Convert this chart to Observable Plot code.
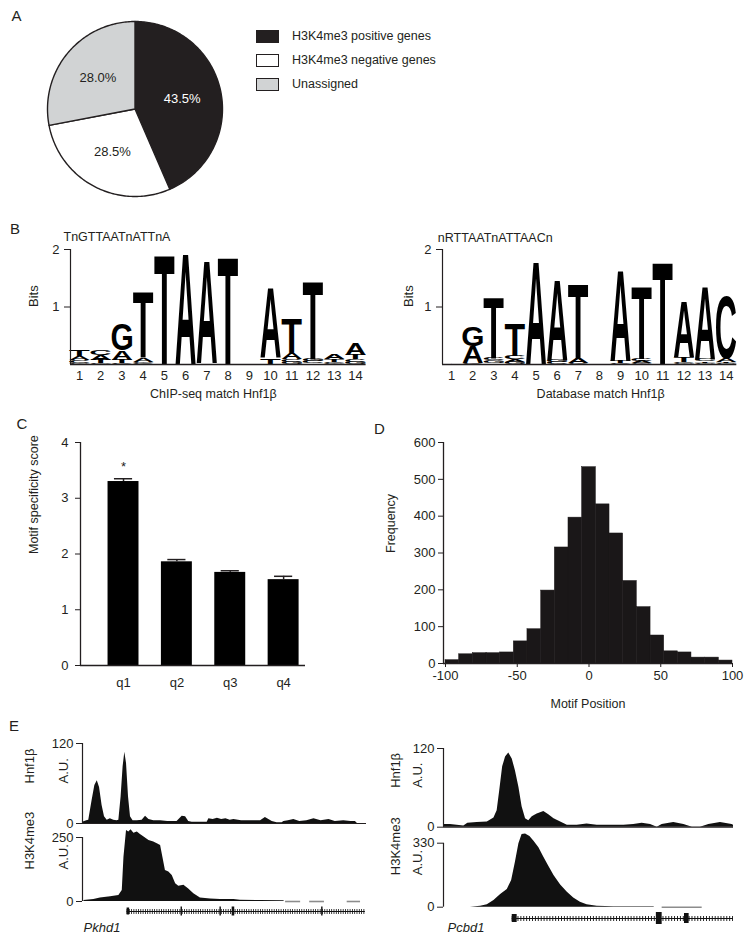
<!DOCTYPE html>
<html><head><meta charset="utf-8">
<script src="https://cdn.jsdelivr.net/npm/d3@7"></script>
<script src="https://cdn.jsdelivr.net/npm/@observablehq/plot@0.6"></script>
<style>
html,body{margin:0;padding:0;background:#fff;}
#page{position:relative;width:751px;height:945px;overflow:hidden;background:#fff;font-family:"Liberation Sans",Arial,Helvetica,sans-serif;color:#231f20;}
#page svg{display:block;overflow:visible;}
</style></head><body><div id="page"></div>
<script>
// ================= DATA =================
// Panel A
const pieCategories = ["H3K4me3 positive genes", "H3K4me3 negative genes", "Unassigned"];
const pieShares = [43.5, 28.5, 28.0];
const pieFills = ["#231f20", "#ffffff", "#d1d3d4"];

// Panel B (information content, bits, per letter)
const logoPositions = [1,2,3,4,5,6,7,8,9,10,11,12,13,14];
const chipTitle = "TnGTTAATnATTnA";
const chipLabel = "ChIP-seq match Hnf1\u03b2";
const chipA = [0.07, 0.09, 0.16, 0.07, 0, 1.94, 1.79, 0, 0, 1.23, 0.10, 0.02, 0.09, 0.20];
const chipC = [0.04, 0.10, 0.02, 0.02, 0, 0, 0, 0, 0, 0, 0.05, 0.04, 0.03, 0.05];
const chipG = [0.03, 0.02, 0.45, 0.03, 0, 0, 0, 0, 0, 0, 0.04, 0.04, 0.02, 0.04];
const chipT = [0.10, 0.06, 0.06, 1.16, 1.93, 0, 0.02, 1.87, 0.02, 0.12, 0.60, 1.36, 0.04, 0.08];
const dbTitle = "nRTTAATnATTAACn";
const dbLabel = "Database match Hnf1\u03b2";
const dbA = [0.02, 0.29, 0.03, 0.05, 1.81, 1.41, 0.08, 0, 1.58, 0.04, 0, 0.96, 1.26, 0.06];
const dbC = [0, 0.02, 0.05, 0.06, 0, 0.04, 0.02, 0, 0.02, 0.04, 0, 0.03, 0.04, 1.10];
const dbG = [0, 0.33, 0.04, 0.04, 0, 0.04, 0, 0, 0, 0.02, 0, 0.02, 0.03, 0.02];
const dbT = [0, 0, 1.05, 0.57, 0, 0, 1.30, 0.02, 0.04, 1.27, 1.78, 0.08, 0.03, 0.02];
const bitsTicks = [1, 2];

// Panel C
const quartiles = ["q1", "q2", "q3", "q4"];
const specificityMean = [3.30, 1.86, 1.67, 1.54];
const specificitySem = [0.05, 0.04, 0.03, 0.06];
const significant = [true, false, false, false];
const specificityTicks = [0, 1, 2, 3, 4];

// Panel D
const binEdges = [-100, -90.5, -81, -71.4, -61.9, -52.4, -42.9, -33.3, -23.8, -14.3, -4.8, 4.8, 14.3, 23.8, 33.3, 42.9, 52.4, 61.9, 71.4, 81, 90.5, 100];
const binCounts = [9, 25, 28, 28, 30, 60, 93, 198, 315, 396, 533, 432, 353, 224, 153, 76, 33, 30, 16, 16, 8];
const positionTicks = [-100, -50, 0, 50, 100];
const frequencyTicks = [0, 100, 200, 300, 400, 500, 600];

// Panel E (relative locus position 0-100, signal in A.U.)
const pkhd1Hnf1b = [[0,2],[1.5,4],[2.2,5],[3.4,35],[4.35,57],[5.2,64],[6.0,54],[6.9,27],[7.75,10],[8.7,5],[9.8,7],[11,5],[12.2,4],[12.8,5],[13.6,40],[14.3,85],[14.9,107],[15.5,90],[16.2,40],[16.9,10],[17.8,4],[19.3,4],[21,5],[22.2,11],[23.4,6],[25.1,4],[27.5,4],[30,3],[33.3,3],[35.1,11],[36.3,10],[37.4,3],[38.6,2],[41,2],[43.9,2],[44.5,7],[46,6],[47.5,8],[49,6],[50.5,7],[52,5],[53.3,6],[56,4],[59,4],[62.7,4],[64.4,9],[66.8,3],[68.5,1],[70.3,1],[70.9,3],[72.5,4],[74.4,6],[76.5,3],[79,4],[81.5,7],[84,4],[86.8,6],[89,3],[92,4],[94.5,3],[96.1,3],[96.8,0],[100,0]];
const pkhd1K4me3 = [[0.5,4],[4,8],[6.3,14],[9.9,19],[12.8,23],[14,43],[14.6,173],[15.5,277],[16.3,271],[17.1,280],[18.1,267],[19.3,271],[20.4,262],[21.8,251],[23.4,238],[25.1,232],[26.5,225],[27.5,219],[28.3,173],[29.2,121],[30.4,115],[31.6,102],[32.8,69],[33.9,60],[35.7,63],[37.4,49],[39.2,30],[41.5,14],[45.1,10],[48.6,8],[53.3,8],[55.6,5],[62.7,4],[70.9,3],[71.1,0]];
const pkhd1Gaps = [[71.5,76.8],[80,85.2],[93.2,97.9]];
const pkhd1Gene = [15.7, 99.6];
const pkhd1Exons = [[15.7,16.6,0.35],[34.7,35.2,0.45],[48.4,48.9,0.45],[52.7,53.6,0.45],[84.2,84.7,0.45]];
const pcbd1Hnf1b = [[0,4],[2.4,4],[4.7,3],[7,2],[8.4,6],[11.6,7],[15.1,8],[17.4,14],[18.5,25],[19.4,56],[20.4,92],[21.4,107],[22.5,113],[23.7,104],[24.8,86],[26,61],[27.1,31],[28.3,13],[29.4,10],[30.6,16],[32.3,20],[34.6,24],[36.3,19],[38.1,13],[40.4,8],[42.7,3],[46.1,3],[49.5,5],[53,3],[57.6,3],[62.2,3],[65.6,4],[68.5,6],[71.4,4],[73.7,0],[75.4,4],[79.4,7],[82.9,4],[85.8,0],[88.6,0],[91.5,4],[95.5,7],[99.5,4],[100,3]];
const pcbd1K4me3 = [[9.3,0],[12.8,5],[15.1,12],[17.4,34],[19.7,65],[22,91],[23.5,138],[24.8,232],[26,327],[27.1,375],[28.3,378],[29.8,364],[31.2,340],[32.9,306],[34.6,258],[36.3,211],[38.1,163],[40.4,115],[42.7,77],[44.9,48],[47.2,26],[49.5,12],[53,5],[58.7,2],[72.5,2],[72.8,0]];
const pcbd1Gaps = [[75.4,89.2]];
const pcbd1Gene = [23.7, 100];
const pcbd1Exons = [[23.7,25.4,0.4],[73.4,75.4,0.6],[83.1,84.7,0.5]];

// ================= RENDER =================
const FONT = "'Liberation Sans', Arial, Helvetica, sans-serif";
const INK = "#231f20";
const page = document.getElementById("page");
const baseStyle = {background: "transparent", fontFamily: FONT, fontSize: "13px", color: INK, overflow: "visible"};
const intFmt = d => String(d);

function place(node, left, top, width) {
  const div = document.createElement("div");
  div.style.cssText = `position:absolute;left:${left}px;top:${top}px;width:${width}px;`;
  div.appendChild(node); page.appendChild(div); return node;
}
function htmlText(txt, left, top, size, extra = "") {
  const d = document.createElement("div");
  d.textContent = txt;
  d.style.cssText = `position:absolute;left:${left}px;top:${top}px;font-size:${size}px;line-height:${size}px;white-space:nowrap;color:${INK};${extra}`;
  page.appendChild(d);
}
const label = (txt, o) => Plot.text([txt], {text: d => d, ...o});

// Panel letters
htmlText("A", 11.5, 8, 15);
htmlText("B", 10, 221, 15);
htmlText("C", 16.5, 416, 15);
htmlText("D", 374, 421, 15);
htmlText("E", 9, 718, 15);

// ---------- A: pie ----------
const arcs = d3.pie().sort(null).value(d => d)(pieShares);
const slicePts = arcs.map(a => {
  const pts = [{x: 0, y: 0}];
  const n = Math.max(2, Math.ceil((a.endAngle - a.startAngle) * 180 / Math.PI));
  for (let j = 0; j <= n; j++) {
    const t = a.startAngle + (a.endAngle - a.startAngle) * j / n;
    pts.push({x: Math.sin(t), y: Math.cos(t)});
  }
  return pts;
});
const pieText = arcs.map((a, i) => {
  const t = (a.startAngle + a.endAngle) / 2;
  return {x: 0.55 * Math.sin(t), y: 0.55 * Math.cos(t), label: pieShares[i].toFixed(1) + "%", color: i === 0 ? "#ffffff" : INK};
});
const piePlot = Plot.plot({
  width: 181, height: 181, margin: 3, style: baseStyle,
  x: {domain: [-1, 1], axis: null}, y: {domain: [-1, 1], axis: null},
  marks: [
    ...slicePts.map((pts, i) => Plot.line(pts, {x: "x", y: "y", curve: "linear-closed", fill: pieFills[i], stroke: INK, strokeWidth: 1.4})),
    Plot.text(pieText, {x: "x", y: "y", text: "label", fill: "color", fontSize: 13})
  ]
});
place(piePlot, 44, 18, 181);

// legend
pieCategories.forEach((c, i) => {
  const y = 30 + i * 24.2;
  const sw = document.createElement("div");
  sw.style.cssText = `position:absolute;left:256px;top:${y}px;width:23px;height:13px;box-sizing:border-box;border:1px solid ${INK};background:${pieFills[i]};`;
  page.appendChild(sw);
  htmlText(c, 292, y - 0.5, 12.5);
});

// ---------- B: sequence logos ----------
function logoPlot(cfg) {
  const {A, C, G, T, title, xlabel, left, top, width, height, marginLeft, marginRight, marginTop, marginBottom, x0, titleDx, titleDy, bitsDx, xlabelDx, xlabelDy} = cfg;
  const letters = [];
  logoPositions.forEach((p, k) => {
    const col = [["A", A[k]], ["C", C[k]], ["G", G[k]], ["T", T[k]]].filter(d => d[1] > 0).sort((a, b) => a[1] - b[1]);
    let acc = 0;
    for (const [L, h] of col) { letters.push({p, letter: L, y1: acc, y2: acc + h}); acc += h; }
  });
  const plot = Plot.plot({
    width, height, marginLeft, marginRight, marginTop, marginBottom, style: baseStyle,
    x: {domain: [x0, 14.5], ticks: logoPositions, tickFormat: intFmt, tickSize: 0, tickPadding: 6, label: null},
    y: {domain: [0, 2], ticks: bitsTicks, tickFormat: intFmt, tickSize: 6, tickPadding: 5, label: null},
    marks: [
      Plot.text(letters, {x: "p", y: "y1", text: "letter", fontSize: 100, fontWeight: "bold", textAnchor: "start", fill: "#000"}),
      Plot.ruleY([0], {strokeWidth: 1.6}),
      Plot.ruleX([x0], {y1: 0, y2: 2, strokeWidth: 1.2}),
      label(title, {frameAnchor: "top-left", textAnchor: "start", dx: titleDx, dy: titleDy, fontSize: 12.5}),
      label("Bits", {frameAnchor: "left", rotate: -90, dx: bitsDx, fontSize: 13}),
      label(xlabel, {frameAnchor: "bottom", dx: xlabelDx, dy: xlabelDy, fontSize: 12.5})
    ]
  });
  const sx = plot.scale("x"), sy = plot.scale("y");
  const fx = sx.apply ? (v => sx.apply(v)) : d3.scaleLinear(sx.domain, sx.range);
  const fy = sy.apply ? (v => sy.apply(v)) : d3.scaleLinear(sy.domain, sy.range);
  const ctx = document.createElement("canvas").getContext("2d");
  ctx.font = `bold 100px ${FONT}`;
  // the letters mark is the only one drawn with font-size 100
  const groups = Array.from(plot.querySelectorAll("g")).filter(g => g.getAttribute("font-size") === "100" || g.style.fontSize === "100px");
  const g = groups[0];
  if (g) g.querySelectorAll("text").forEach((el, j) => {
    const i = typeof el.__data__ === "number" ? el.__data__ : j;
    const d = letters[i];
    if (!d) return;
    const m = ctx.measureText(d.letter);
    const L = -m.actualBoundingBoxLeft, R = m.actualBoundingBoxRight;
    const Tp = -m.actualBoundingBoxAscent, B = m.actualBoundingBoxDescent;
    const x0p = fx(d.p - 0.48), x1p = fx(d.p + 0.48), yt = fy(d.y2), yb = fy(d.y1);
    const kx = (x1p - x0p) / (R - L), ky = (yb - yt) / (B - Tp);
    el.setAttribute("x", 0); el.setAttribute("y", 0); el.removeAttribute("dy");
    el.setAttribute("transform", `translate(${x0p},${yt}) scale(${kx},${ky}) translate(${-L},${-Tp})`);
    el.setAttribute("text-anchor", "start");
    el.style.fontSize = "100px"; el.style.fontWeight = "bold"; el.style.fontFamily = FONT;
  });
  return place(plot, left, top, width);
}
logoPlot({A: chipA, C: chipC, G: chipG, T: chipT, title: chipTitle, xlabel: chipLabel,
  left: 0, top: 225, width: 375, height: 179, marginLeft: 70, marginRight: 9.4, marginTop: 24, marginBottom: 40,
  x0: 0.576, titleDx: -7, titleDy: -17, bitsDx: -37, xlabelDx: -5, xlabelDy: 33});
logoPlot({A: dbA, C: dbC, G: dbG, T: dbT, title: dbTitle, xlabel: dbLabel,
  left: 380, top: 225, width: 371, height: 179, marginLeft: 62, marginRight: 14.7, marginTop: 24, marginBottom: 40,
  x0: 0.574, titleDx: -4.7, titleDy: -16, bitsDx: -34, xlabelDx: 11, xlabelDy: 33});

// ---------- C: bar chart ----------
const barData = quartiles.map((q, i) => ({i: i + 1, q, mean: specificityMean[i], sem: specificitySem[i], star: significant[i]}));
const cXDomain = [0.194, 4.41];
const cPlot = Plot.plot({
  width: 320, height: 265, marginLeft: 80, marginRight: 15, marginTop: 12, marginBottom: 30, style: baseStyle,
  x: {domain: cXDomain, ticks: barData.map(d => d.i), tickFormat: v => quartiles[v - 1], tickSize: 0, tickPadding: 12, label: null},
  y: {domain: [0, 4], ticks: specificityTicks, tickFormat: intFmt, tickSize: 5, tickPadding: 7, label: null},
  marks: [
    Plot.rect(barData, {x1: d => d.i - 0.29, x2: d => d.i + 0.29, y1: () => 0, y2: "mean", fill: "#000"}),
    Plot.ruleX(barData, {x: "i", y1: "mean", y2: d => d.mean + d.sem, strokeWidth: 1.5}),
    Plot.ruleY(barData, {y: d => d.mean + d.sem, x1: d => d.i - 0.17, x2: d => d.i + 0.17, strokeWidth: 1.5}),
    Plot.text(barData.filter(d => d.star), {x: "i", y: d => d.mean + d.sem, text: () => "*", dy: -12, fontSize: 13}),
    Plot.ruleX([cXDomain[0]], {y1: 0, y2: 4, strokeWidth: 1.3}),
    Plot.ruleY([0], {strokeWidth: 1.3}),
    label("Motif specificity score", {frameAnchor: "left", rotate: -90, dx: -47, fontSize: 12.5})
  ]
});
place(cPlot, 0, 430, 320);

// ---------- D: histogram ----------
const hist = binCounts.map((c, i) => ({x1: binEdges[i], x2: binEdges[i + 1], n: c}));
const dXDomain = [-101.4, 100];
const dPlot = Plot.plot({
  width: 371, height: 290, marginLeft: 63, marginRight: 19, marginTop: 12, marginBottom: 57, style: baseStyle,
  x: {domain: dXDomain, ticks: positionTicks, tickFormat: intFmt, tickSize: 4, tickPadding: 3, label: null},
  y: {domain: [0, 600], ticks: frequencyTicks, tickFormat: intFmt, tickSize: 5, tickPadding: 3, label: null},
  marks: [
    Plot.rect(hist, {x1: "x1", x2: "x2", y1: () => 0, y2: "n", fill: "#1a1718", stroke: "#1a1718", strokeWidth: 0.5}),
    Plot.ruleX([dXDomain[0]], {y1: 0, y2: 600, strokeWidth: 1.3}),
    Plot.ruleY([0], {strokeWidth: 1.3}),
    label("Frequency", {frameAnchor: "left", rotate: -90, dx: -53, fontSize: 12.5}),
    label("Motif Position", {frameAnchor: "bottom", dy: 44, fontSize: 12.5})
  ]
});
place(dPlot, 380, 430, 371);

// ---------- E: tracks ----------
function trackPlot(o) {
  const p = Plot.plot({
    width: o.width, height: o.height, marginLeft: o.marginLeft, marginRight: o.marginRight, marginTop: o.marginTop, marginBottom: o.marginBottom,
    style: baseStyle,
    x: {domain: [0, 100], axis: null},
    y: {domain: [0, o.ymax], ticks: [0, o.ymax], tickFormat: intFmt, tickSize: 6, tickPadding: 3, label: null},
    marks: [
      Plot.areaY(o.data, {x: d => d[0], y1: () => 0, y2: d => d[1], fill: "#111"}),
      o.baseline ? Plot.ruleY([0], {strokeWidth: 1.2}) : null,
      o.gaps ? Plot.ruleY(o.gaps, {y: () => 0, x1: d => d[0], x2: d => d[1], stroke: "#8c8c8c", strokeWidth: 1.6}) : null,
      Plot.ruleX([0], {y1: 0, y2: o.ymax, strokeWidth: 1.2}),
      label(o.name, {frameAnchor: "left", rotate: -90, dx: o.nameDx, fontSize: 13}),
      label("A.U.", {frameAnchor: "left", rotate: -90, dx: o.auDx, fontSize: 13})
    ]
  });
  return place(p, o.left, o.top, o.width);
}
function genePlot(o) {
  const p = Plot.plot({
    width: o.width, height: 40, marginLeft: o.marginLeft, marginRight: o.marginRight, marginTop: 0, marginBottom: 20,
    style: baseStyle,
    x: {domain: [0, 100], axis: null}, y: {domain: [-1, 1], axis: null},
    marks: [
      Plot.ruleY([o.gene], {y: () => 0, x1: d => d[0], x2: d => d[1], strokeWidth: 1.2, stroke: "#111"}),
      Plot.ruleY([o.gene], {y: () => 0, x1: d => d[0], x2: d => d[1], strokeWidth: 5, stroke: "#111", strokeDasharray: o.hatch}),
      Plot.rect(o.exons, {x1: d => d[0], x2: d => d[1], y1: d => -d[2], y2: d => d[2], fill: "#111"}),
      label(o.name, {frameAnchor: "bottom-left", textAnchor: "start", dx: o.nameDx, dy: o.nameDy, fontStyle: "italic", fontSize: 13})
    ]
  });
  return place(p, o.left, o.top, o.width);
}
trackPlot({data: pkhd1Hnf1b, ymax: 120, baseline: true, name: "Hnf1\u03b2", left: 0, top: 735, width: 375, height: 95,
  marginLeft: 82, marginRight: 9, marginTop: 8, marginBottom: 7, nameDx: -53, auDx: -19});
trackPlot({data: pkhd1K4me3, ymax: 250, gaps: pkhd1Gaps, name: "H3K4me3", left: 0, top: 820, width: 375, height: 85,
  marginLeft: 82, marginRight: 9, marginTop: 17, marginBottom: 4, nameDx: -53, auDx: -19});
genePlot({gene: pkhd1Gene, exons: pkhd1Exons, name: "Pkhd1", left: 0, top: 901, width: 375,
  marginLeft: 82, marginRight: 9, nameDx: 1, nameDy: 10.7, hatch: "0.8 1.5"});
trackPlot({data: pcbd1Hnf1b, ymax: 120, baseline: true, name: "Hnf1\u03b2", left: 380, top: 740, width: 371, height: 94,
  marginLeft: 63, marginRight: 18, marginTop: 8, marginBottom: 7.3, nameDx: -48, auDx: -26});
trackPlot({data: pcbd1K4me3, ymax: 330, gaps: pcbd1Gaps, name: "H3K4me3", left: 380, top: 825, width: 371, height: 86,
  marginLeft: 63, marginRight: 18, marginTop: 17.7, marginBottom: 4.3, nameDx: -48, auDx: -26});
genePlot({gene: pcbd1Gene, exons: pcbd1Exons, name: "Pcbd1", left: 380, top: 907.7, width: 371,
  marginLeft: 63, marginRight: 18, nameDx: 4, nameDy: 3.3, hatch: "0.9 2"});
</script></body></html>
